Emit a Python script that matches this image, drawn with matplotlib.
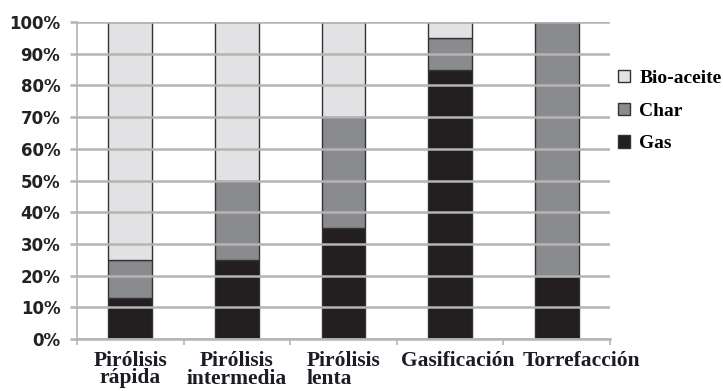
import numpy as np
import matplotlib.pyplot as plt
from matplotlib.ticker import FixedLocator, PercentFormatter

categories = ["Pirólisis\nrápida", "Pirólisis\nintermedia", "Pirólisis\nlenta",
              "Gasificación", "Torrefacción"]
gas = [13, 25, 35, 85, 20]
char = [12, 25, 35, 10, 80]
bio_aceite = [75, 50, 30, 5, 0]

colors = {"Gas": "#231f20", "Char": "#8a8b8f", "Bio-aceite": "#e2e2e5"}

# horizontal nudge (px) and alignment of each category label
label_shift = [0, 0, 0, 8, 25]
label_align = ["center", "center", "left", "center", "center"]

fig = plt.figure(figsize=(7.23, 3.91), dpi=100)
ax = fig.add_axes([77 / 723, 1 - 339 / 391, 533 / 723, 317 / 391])

x = np.arange(len(categories))
w = 0.41
bottom = np.zeros(len(categories))
for name, vals in [("Gas", gas), ("Char", char), ("Bio-aceite", bio_aceite)]:
    ax.bar(x, vals, w, bottom=bottom, color=colors[name], edgecolor="#333333",
           linewidth=1.0, label=name)
    bottom += np.array(vals)

ax.set_xlim(-0.5, len(categories) - 0.5)
ax.set_ylim(0, 100)
ax.yaxis.set_major_locator(FixedLocator(np.arange(0, 101, 10)))
ax.yaxis.set_major_formatter(PercentFormatter(decimals=0))
ax.set_axisbelow(False)
ax.grid(axis="y", color="#b4b4b4", linewidth=1.8)

for side in ["top", "right"]:
    ax.spines[side].set_visible(False)
ax.spines["left"].set_color("#b4b4b4")
ax.spines["bottom"].set_color("#b4b4b4")
ax.spines["left"].set_linewidth(1.2)
ax.spines["bottom"].set_linewidth(1.8)

ax.tick_params(axis="y", length=5, color="#b4b4b4", width=1.8, pad=7)
for lbl in ax.get_yticklabels():
    lbl.set_fontfamily("DejaVu Sans")
    lbl.set_fontweight("bold")
    lbl.set_fontsize(12)
    lbl.set_color("#222222")

# category boundary ticks on the x axis
ax.set_xticks(np.arange(-0.5, len(categories), 1.0))
ax.set_xticklabels([])
ax.tick_params(axis="x", which="major", length=4, color="#b4b4b4", width=1.2)

# category names under the bars
for i, name in enumerate(categories):
    ax.annotate(name, xy=(x[i], 0), xycoords=("data", "axes fraction"),
                xytext=(label_shift[i] * 0.72, -9), textcoords="offset points",
                ha="center", va="top", multialignment=label_align[i],
                fontfamily="Liberation Serif", fontweight="bold",
                fontsize=15.5, linespacing=0.8, color="#1c1c24",
                annotation_clip=False)

handles, labels = ax.get_legend_handles_labels()
leg = fig.legend(handles[::-1], labels[::-1], loc="upper left",
                 bbox_to_anchor=(618 / 723, 1 - 70 / 391), frameon=False,
                 prop={"family": "Liberation Serif", "weight": "bold", "size": 14},
                 handlelength=0.6, handleheight=0.6, handletextpad=0.5,
                 labelspacing=0.8, borderaxespad=0, borderpad=0)

fig.savefig("out.png", dpi=100)
